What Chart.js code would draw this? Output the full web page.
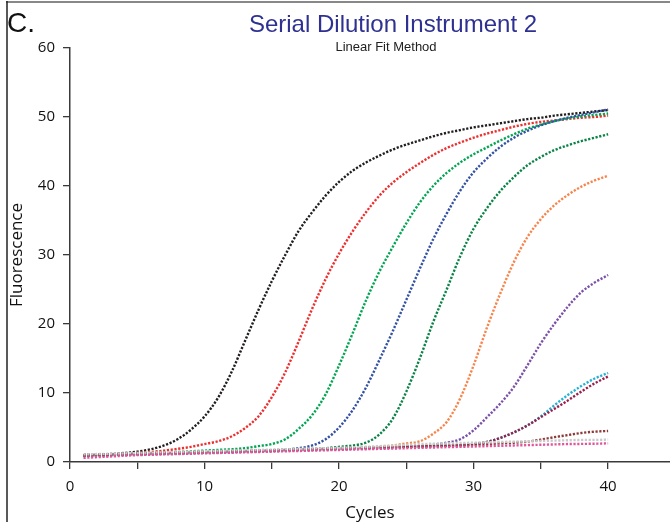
<!DOCTYPE html>
<html>
<head>
<meta charset="utf-8">
<script src="https://cdn.jsdelivr.net/npm/chart.js@4"></script>
<style>
  html, body { margin: 0; padding: 0; background: #fff; }
  #wrap { position: relative; width: 670px; height: 522px; }
</style>
</head>
<body>
<div id="wrap"><canvas id="qpcr" width="670" height="522"></canvas></div>
<script>
// cycle numbers and fluorescence readings per sample
const cycles = [1,2,3,4,5,6,7,8,9,10,11,12,13,14,15,16,17,18,19,20,
  21,22,23,24,25,26,27,28,29,30,31,32,33,34,35,36,37,38,39,40];

const black = [1.0,1.05,1.15,1.3,1.5,1.85,2.4,3.3,4.7,6.6, 9.3,13.0,17.5,22.0,26.2,30.0,33.5,36.2,38.6,40.6,
  42.2,43.4,44.4,45.3,46.0,46.6,47.2,47.7,48.1,48.5, 48.8,49.1,49.4,49.7,49.9,50.2,50.4,50.6,50.8,51.0];
const red = [1.0,1.05,1.1,1.2,1.3,1.45,1.65,1.9,2.2,2.6, 3.0,3.7,4.9,6.6,9.4,13.0,17.5,22.2,26.5,30.2,
  33.4,36.2,38.6,40.5,42.0,43.3,44.5,45.5,46.3,47.0, 47.6,48.1,48.6,49.0,49.3,49.5,49.7,49.9,50.0,50.2];
const green = [1.0,1.05,1.1,1.15,1.2,1.3,1.35,1.45,1.55,1.65, 1.75,1.85,2.0,2.3,2.6,3.3,4.8,6.8,9.8,14.0,
  18.6,23.4,27.6,31.2,34.6,37.6,40.0,41.9,43.4,44.6, 45.6,46.6,47.5,48.3,48.9,49.4,49.8,50.1,50.3,50.5];
const blue = [0.9,0.95,1.0,1.05,1.1,1.15,1.2,1.25,1.3,1.35, 1.4,1.45,1.5,1.6,1.7,1.8,2.0,2.4,3.3,5.0,
  7.5,10.8,14.8,19.0,23.5,28.0,32.3,36.0,39.3,42.0, 44.0,45.7,47.0,48.0,48.8,49.4,49.9,50.3,50.7,51.1];
const darkGreen = [0.9,0.95,1.0,1.05,1.1,1.15,1.2,1.25,1.3,1.35, 1.4,1.45,1.5,1.55,1.6,1.7,1.8,1.9,2.0,2.2,
  2.4,2.8,4.0,6.3,10.2,15.0,20.3,25.0,29.8,33.8, 36.8,39.3,41.3,43.0,44.2,45.2,45.9,46.5,47.0,47.5];
const orange = [0.95,1.0,1.05,1.1,1.15,1.2,1.25,1.3,1.35,1.4, 1.45,1.5,1.55,1.6,1.65,1.7,1.75,1.8,1.85,1.9,
  2.0,2.1,2.2,2.4,2.7,3.0,4.1,5.8,9.2,14.0, 19.5,24.5,29.0,32.6,35.2,37.2,38.7,39.9,40.8,41.5];
const purple = [0.9,0.95,1.0,1.05,1.1,1.15,1.2,1.25,1.3,1.35, 1.4,1.45,1.5,1.55,1.6,1.65,1.7,1.75,1.8,1.85,
  1.9,1.95,2.0,2.1,2.2,2.3,2.5,2.8,3.3,4.6, 6.5,8.5,10.9,14.0,17.2,20.0,22.5,24.6,26.0,27.1];
const cyan = [1.0,1.05,1.1,1.15,1.2,1.25,1.3,1.35,1.4,1.45, 1.5,1.55,1.6,1.65,1.7,1.75,1.8,1.85,1.9,1.95,
  2.0,2.05,2.1,2.15,2.2,2.25,2.3,2.35,2.45,2.6, 2.9,3.5,4.3,5.3,6.6,8.2,9.7,11.0,12.1,12.9];
const crimson = [1.0,1.05,1.1,1.15,1.2,1.25,1.3,1.35,1.4,1.45, 1.5,1.55,1.6,1.65,1.7,1.75,1.8,1.85,1.9,1.95,
  2.0,2.05,2.1,2.15,2.2,2.25,2.3,2.35,2.45,2.6, 2.9,3.5,4.3,5.3,6.5,7.7,8.9,10.2,11.4,12.4];
const brown = [1.0,1.05,1.1,1.15,1.2,1.25,1.3,1.35,1.4,1.45, 1.5,1.55,1.6,1.65,1.7,1.75,1.8,1.85,1.9,1.95,
  2.0,2.05,2.1,2.15,2.2,2.25,2.3,2.35,2.4,2.5, 2.6,2.7,2.8,2.95,3.25,3.6,3.9,4.2,4.4,4.5];
const gray = [1.1,1.15,1.2,1.25,1.3,1.35,1.4,1.45,1.5,1.55, 1.6,1.65,1.7,1.75,1.8,1.85,1.9,1.95,2.0,2.05,
  2.1,2.2,2.3,2.4,2.5,2.6,2.65,2.7,2.75,2.8, 2.85,2.9,2.95,3.0,3.05,3.1,3.15,3.2,3.2,3.25];
const pink = [0.6,0.7,0.8,0.9,1.0,1.05,1.1,1.15,1.2,1.25, 1.3,1.35,1.4,1.45,1.5,1.55,1.6,1.65,1.7,1.75,
  1.8,1.85,1.9,1.95,2.0,2.05,2.1,2.15,2.2,2.25, 2.3,2.35,2.4,2.45,2.5,2.55,2.6,2.62,2.65,2.7];

const xTicks = [0, 10, 20, 30, 40];

const series = [
  { name: 'pink', values: pink, color: '#e0569c' },
  { name: 'gray', values: gray, color: '#c9c9c9' },
  { name: 'brown', values: brown, color: '#8e3a3a' },
  { name: 'crimson', values: crimson, color: '#9b1f4a' },
  { name: 'cyan', values: cyan, color: '#22b2d6' },
  { name: 'purple', values: purple, color: '#7a50a8' },
  { name: 'orange', values: orange, color: '#f7844a' },
  { name: 'darkGreen', values: darkGreen, color: '#0a8346' },
  { name: 'blue', values: blue, color: '#3451a3' },
  { name: 'green', values: green, color: '#00a651' },
  { name: 'red', values: red, color: '#ee2f2f' },
  { name: 'black', values: black, color: '#231f20' }
];

// title, panel letter and the frame lines
const decor = {
  id: 'decor',
  afterDraw(chart){
    const c = chart.ctx;
    c.save();
    c.strokeStyle = '#888';
    c.lineWidth = 2;
    c.beginPath(); c.moveTo(6, 2); c.lineTo(670, 2); c.stroke();
    c.strokeStyle = '#222';
    c.lineWidth = 1.5;
    c.beginPath(); c.moveTo(7, 1); c.lineTo(7, 522); c.stroke();

    c.fillStyle = '#111';
    c.textBaseline = 'alphabetic';
    c.textAlign = 'left';
    c.font = '28px "Liberation Sans", Arial, sans-serif';
    c.fillText('C.', 7, 32);

    c.textAlign = 'center';
    c.fillStyle = '#2e3192';
    c.font = '24px "Liberation Sans", Arial, sans-serif';
    c.fillText('Serial Dilution Instrument 2', 393, 32);
    c.fillStyle = '#222';
    c.font = '13px "Liberation Sans", Arial, sans-serif';
    c.fillText('Linear Fit Method', 386, 51);
    c.restore();
  }
};

const axisColor = '#3a3a3a';

new Chart(document.getElementById('qpcr'), {
  type: 'line',
  data: {
    datasets: series.map(s => ({
      label: s.name,
      data: s.values.map((v, i) => ({ x: cycles[i], y: v })),
      borderColor: s.color,
      backgroundColor: s.color,
      borderWidth: 2.4,
      borderDash: [2.2, 1.6],
      pointRadius: 0,
      fill: false,
      cubicInterpolationMode: 'monotone'
    }))
  },
  options: {
    responsive: false,
    animation: false,
    layout: { padding: { top: 48, right: 0, bottom: 0, left: 0 } },
    plugins: {
      legend: { display: false },
      tooltip: { enabled: false }
    },
    scales: {
      x: {
        type: 'linear',
        min: 0,
        max: 44.6,
        afterFit(scale){ scale.height = 60; },
        afterBuildTicks(scale){
          scale.ticks = [0,5,10,15,20,25,30,35,40].map(v => ({ value: v }));
        },
        border: { display: true, color: axisColor, width: 1.5 },
        grid: { drawOnChartArea: false, drawTicks: true, tickLength: 7, color: axisColor, lineWidth: 1.3 },
        ticks: {
          padding: 9,
          maxRotation: 0,
          autoSkip: false,
          color: '#111',
          font: { family: '"Open Sans", sans-serif', size: 15 },
          callback: v => xTicks.includes(v) ? String(v) : ''
        },
        title: {
          display: true,
          text: 'Cycles',
          color: '#111',
          padding: { top: 0, bottom: 0 },
          font: { family: '"Open Sans", sans-serif', size: 17, lineHeight: 1.05 }
        }
      },
      y: {
        min: 0,
        max: 60,
        afterFit(scale){ scale.width = 70; },
        border: { display: true, color: axisColor, width: 1.5 },
        grid: { drawOnChartArea: false, drawTicks: true, tickLength: 7, color: axisColor, lineWidth: 1.3 },
        ticks: {
          stepSize: 10,
          padding: 8,
          color: '#111',
          font: { family: '"Open Sans", sans-serif', size: 15 }
        },
        title: {
          display: true,
          text: 'Fluorescence',
          color: '#111',
          padding: { top: 7, bottom: 0 },
          font: { family: '"Open Sans", sans-serif', size: 17 }
        }
      }
    }
  },
  plugins: [decor]
});
</script>
</body>
</html>
